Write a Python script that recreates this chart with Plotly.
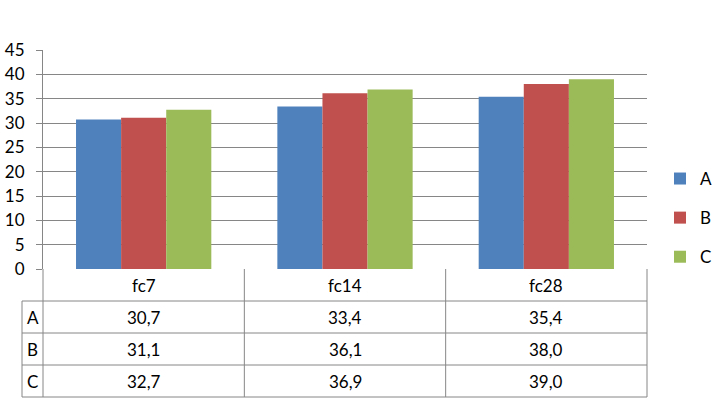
import plotly.graph_objects as go

categories = ["fc7", "fc14", "fc28"]
series_names = ["A", "B", "C"]
values_A = [30.7, 33.4, 35.4]
values_B = [31.1, 36.1, 38.0]
values_C = [32.7, 36.9, 39.0]
colors = ["#4F81BD", "#C0504D", "#9BBB59"]

series_values = [values_A, values_B, values_C]

FONT = "Lato"
GRID = "#868686"
W, H = 718, 406
ml, mr, mt, mb = 43, 71, 50, 137
plot_w = W - ml - mr
plot_h = H - mt - mb
row_h = 32 / plot_h            # table row height in paper units
label_w = 21 / plot_w          # left label column width in paper units
ncat = len(categories)
cat_w = 1.0 / ncat             # one category band in paper units

fig = go.Figure()
for name, vals, col in zip(series_names, series_values, colors):
    fig.add_trace(go.Bar(
        x=list(range(ncat)), y=vals, name=name,
        marker=dict(color=col, line=dict(width=0)),
        hoverinfo="skip", legendgroup=name,
    ))

line = dict(color=GRID, width=1)
shapes = []
nrows = len(series_names) + 1
for k in range(1, nrows + 1):
    shapes.append(dict(type="line", xref="paper", yref="paper",
                       x0=-label_w, x1=1, y0=-k * row_h, y1=-k * row_h, line=line))
for i in range(ncat + 1):
    shapes.append(dict(type="line", xref="paper", yref="paper",
                       x0=i * cat_w, x1=i * cat_w, y0=0, y1=-nrows * row_h, line=line))
shapes.append(dict(type="line", xref="paper", yref="paper",
                   x0=-label_w, x1=-label_w, y0=-row_h, y1=-nrows * row_h, line=line))

tfont = dict(family=FONT, size=17, color="#000")
annotations = []
for i, c in enumerate(categories):
    annotations.append(dict(x=(i + 0.5) * cat_w, y=-0.5 * row_h, xref="paper", yref="paper",
                            text=c, showarrow=False, font=tfont,
                            xanchor="center", yanchor="middle"))
for r, (name, vals) in enumerate(zip(series_names, series_values)):
    yc = -(r + 1.5) * row_h
    annotations.append(dict(x=-label_w / 2, y=yc, xref="paper", yref="paper",
                            text=name, showarrow=False, font=tfont,
                            xanchor="center", yanchor="middle"))
    for i, v in enumerate(vals):
        annotations.append(dict(x=(i + 0.5) * cat_w, y=yc, xref="paper", yref="paper",
                                text=f"{v:.1f}".replace(".", ","), showarrow=False,
                                font=tfont, xanchor="center", yanchor="middle"))

fig.update_layout(
    width=W, height=H,
    margin=dict(l=ml, r=mr, t=mt, b=mb, autoexpand=False),
    paper_bgcolor="white", plot_bgcolor="white",
    barmode="group", bargap=0.328, bargroupgap=0,
    font=dict(family=FONT, size=17, color="#000"),
    showlegend=True,
    legend=dict(x=1.0215, xanchor="left", y=0.233, yanchor="middle",
                font=dict(family=FONT, size=17, color="#000"),
                tracegroupgap=14, itemwidth=30, bgcolor="rgba(0,0,0,0)"),
    xaxis=dict(range=[-0.5, ncat - 0.5], showticklabels=False, showgrid=False,
               zeroline=False, showline=False, ticks="", fixedrange=True,
               automargin=False),
    yaxis=dict(range=[0, 45], dtick=5, tick0=0, showgrid=True, gridcolor=GRID,
               gridwidth=1, zeroline=False, showline=True, linecolor=GRID,
               ticks="outside", ticklen=6, tickcolor=GRID,
               ticklabelstandoff=8, automargin=False,
               tickfont=dict(family=FONT, size=17, color="#000")),
    shapes=shapes, annotations=annotations,
)

fig.write_html("out.html")
